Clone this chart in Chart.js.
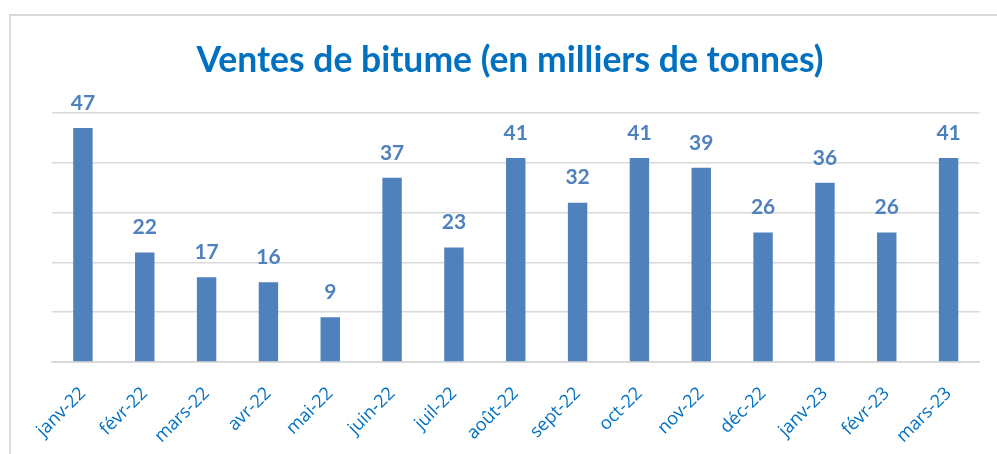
<!DOCTYPE html>
<html>
<head>
<meta charset="utf-8">
<script src="https://cdn.jsdelivr.net/npm/chart.js@4.4.0/dist/chart.umd.min.js"></script>
<style>
  html, body { margin: 0; padding: 0; background: #fff; }
  #wrap { position: relative; width: 997px; height: 454px; overflow: hidden; }
  #frame { position: absolute; left: 9px; top: 14px; width: 990px; height: 460px; border: 2px solid #d9d9d9; box-sizing: border-box; }
  canvas { position: absolute; left: 0; top: 0; }
</style>
</head>
<body>
<div id="wrap">
  <div id="frame"></div>
  <canvas id="bitumeChart" width="997" height="454"></canvas>
</div>
<script>
const months = ['janv-22', 'févr-22', 'mars-22', 'avr-22', 'mai-22', 'juin-22', 'juil-22', 'août-22',
    'sept-22', 'oct-22', 'nov-22', 'déc-22', 'janv-23', 'févr-23', 'mars-23'];
const ventes = [47, 22, 17, 16, 9, 37, 23, 41, 32, 41, 39, 26, 36, 26, 41];
const chartTitle = 'Ventes de bitume (en milliers de tonnes)';

// valeurs au-dessus des barres
const barLabels = {
    id: 'barLabels',
    afterDatasetsDraw(chart) {
        const ctx = chart.ctx;
        const meta = chart.getDatasetMeta(0);
        ctx.save();
        ctx.fillStyle = '#4f81bd';
        ctx.font = 'bold 21px Lato';
        ctx.textAlign = 'center';
        ctx.textBaseline = 'middle';
        meta.data.forEach((bar, i) => {
            ctx.fillText(ventes[i], bar.x, bar.y - 25);
        });
        ctx.restore();
    }
};

const ctx = document.getElementById('bitumeChart').getContext('2d');
const myChart = new Chart(ctx, {
    type: 'bar',
    data: {
        labels: months,
        datasets: [{
            label: 'Ventes',
            data: ventes,
            backgroundColor: '#4f81bd',
            barPercentage: 0.314,
            categoryPercentage: 1
        }]
    },
    options: {
        responsive: false,
        animation: false,
        layout: { padding: { left: 40.5, right: 17.5, top: 0, bottom: 0 } },
        plugins: {
            legend: { display: false },
            tooltip: { enabled: false },
            title: {
                display: true,
                text: chartTitle,
                color: '#0070c0',
                font: { family: 'Lato', size: 35.5, weight: 'bold', lineHeight: 1.2 },
                padding: { top: 39, bottom: 31.5 }
            }
        },
        scales: {
            x: {
                grid: { display: false },
                border: { color: '#d9d9d9', width: 2 },
                ticks: {
                    color: '#0070c0',
                    font: { family: 'Open Sans', size: 18 },
                    maxRotation: 45,
                    minRotation: 45,
                    padding: 13
                },
                afterFit(scale) { scale.height = 92; }
            },
            y: {
                min: 0,
                max: 50,
                ticks: { display: false, stepSize: 10 },
                grid: { color: '#d9d9d9', lineWidth: 1.5, drawTicks: false },
                border: { display: false },
                afterFit(scale) { scale.width = 11.5; }
            }
        }
    },
    plugins: [barLabels]
});
</script>
</body>
</html>
